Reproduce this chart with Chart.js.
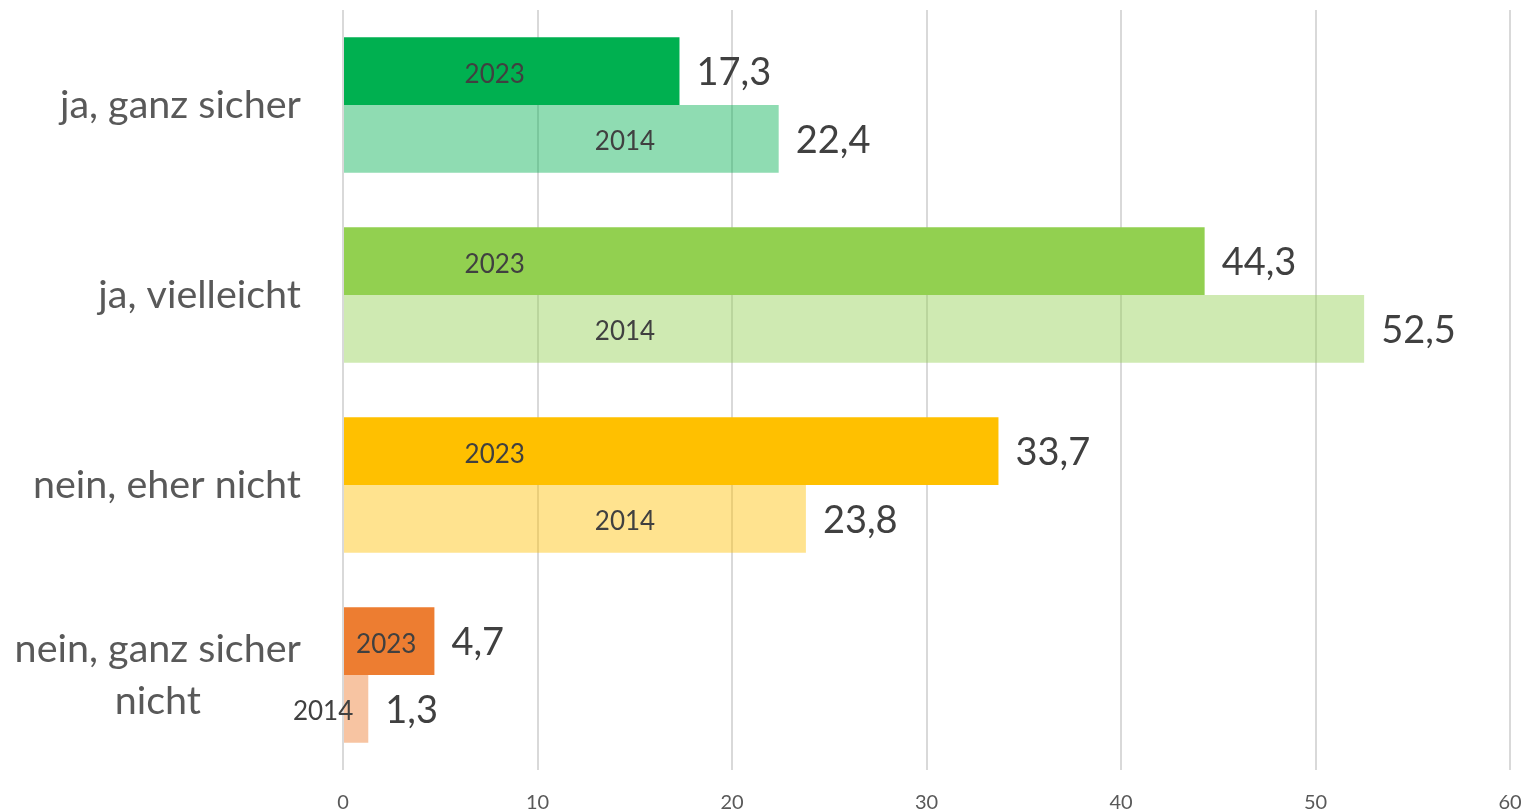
<!DOCTYPE html>
<html><head><meta charset="utf-8">
<script src="https://cdn.jsdelivr.net/npm/chart.js@4"></script>
<style>html,body{margin:0;padding:0;background:#fff}#wrap{width:1531px;height:812px}</style>
</head><body><div id="wrap"><canvas id="c" width="1531" height="812"></canvas></div>
<script>
const categories = [["ja, ganz sicher"], ["ja, vielleicht"], ["nein, eher nicht"], ["nein, ganz sicher", "nicht"]];
const seriesNames = ["2023", "2014"];
const values2023 = [17.3, 44.3, 33.7, 4.7];
const values2014 = [22.4, 52.5, 23.8, 1.3];
const xTicks = [0, 10, 20, 30, 40, 50, 60];
const colors2023 = ['#00B050', '#92D050', '#FFC000', '#ED7D31'];
const colors2014 = ['rgba(0,176,80,0.44)', 'rgba(146,208,80,0.44)', 'rgba(255,192,0,0.44)', 'rgba(237,125,49,0.45)'];

const FONT = 'Lato, "Open Sans", sans-serif';
const fmt = v => v.toFixed(1).replace('.', ',');

const labelPlugin = {
  id: 'barLabels',
  afterDatasetsDraw(chart) {
    const ctx = chart.ctx;
    const xs = chart.scales.x;
    ctx.save();
    chart.data.datasets.forEach((ds, di) => {
      const meta = chart.getDatasetMeta(di);
      meta.data.forEach((bar, i) => {
        const v = ds.data[i];
        const x0 = bar.base, x1 = bar.x, y = bar.y;
        ctx.textBaseline = 'middle';
        // value label
        ctx.font = '38px ' + FONT;
        ctx.fillStyle = '#404040';
        ctx.textAlign = 'left';
        ctx.fillText(fmt(v), x1 + 17, y + 2);
        // series label inside bar
        ctx.font = '26px ' + FONT;
        ctx.textAlign = 'center';
        const name = ds.label;
        const w = ctx.measureText(name).width;
        let cx;
        if (w + 10 > x1 - x0) cx = x1 - 15 - w / 2;
        else if (di === 0) cx = Math.min(xs.getPixelForValue(7.8), (x0 + x1) / 2 - 3);
        else cx = xs.getPixelForValue(14.5);
        ctx.fillText(name, cx, y + 3);
      });
    });
    ctx.restore();
  },
  afterDraw(chart) {
    const ctx = chart.ctx;
    const ys = chart.scales.y;
    ctx.save();
    ctx.font = '39.5px ' + FONT;
    ctx.fillStyle = '#595959';
    ctx.textBaseline = 'middle';
    ctx.textAlign = 'center';
    const right = 301, lh = 52;
    categories.forEach((lines, i) => {
      const cy = ys.getPixelForValue(i);
      const widest = Math.max(...lines.map(l => ctx.measureText(l).width));
      const cx = right - widest / 2;
      const top = cy - (lines.length - 1) * lh / 2;
      lines.forEach((l, k) => ctx.fillText(l, cx, top + k * lh));
    });
    ctx.restore();
  }
};

new Chart(document.getElementById('c'), {
  type: 'bar',
  data: {
    labels: categories,
    datasets: [
      { label: seriesNames[0], data: values2023, backgroundColor: colors2023, borderWidth: 0 },
      { label: seriesNames[1], data: values2014, backgroundColor: colors2014, borderWidth: 0 }
    ]
  },
  options: {
    indexAxis: 'y',
    responsive: false,
    animation: false,
    devicePixelRatio: 1,
    categoryPercentage: 0.712,
    barPercentage: 1,
    layout: { padding: { top: 10, right: 21, left: 0, bottom: 0 } },
    plugins: { legend: { display: false }, tooltip: { enabled: false } },
    scales: {
      x: {
        min: 0, max: 60,
        afterBuildTicks: s => { s.ticks = xTicks.map(v => ({ value: v })); },
        afterFit: s => { s.height = 42; s.paddingLeft = 0; s.paddingRight = 0; },
        grid: { color: '#d9d9d9', lineWidth: 2, drawTicks: false },
        border: { display: false },
        ticks: { font: { family: FONT, size: 20 }, color: '#595959', padding: 21, maxRotation: 0 }
      },
      y: {
        afterFit: s => { s.width = 343; s.paddingTop = 0; s.paddingBottom = 0; },
        grid: { display: false },
        border: { display: false },
        ticks: { display: false }
      }
    }
  },
  plugins: [labelPlugin]
});
</script></body></html>
